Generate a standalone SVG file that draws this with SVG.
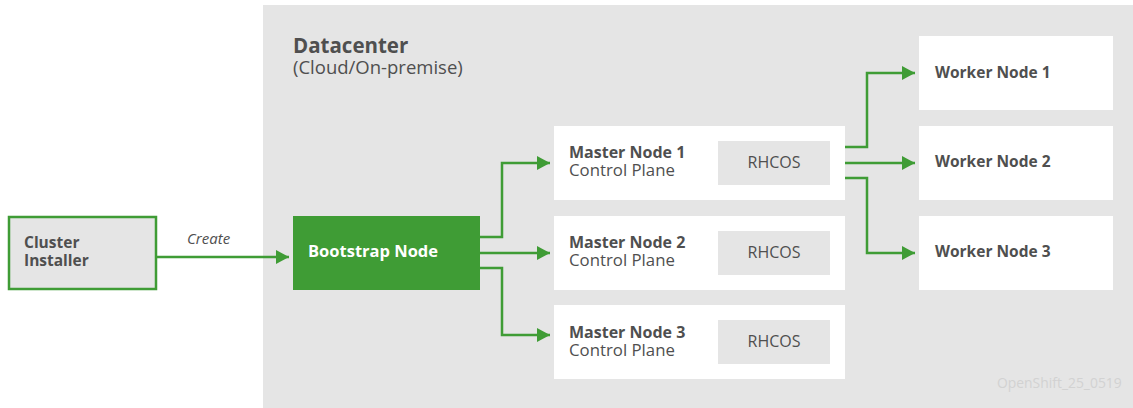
<svg xmlns="http://www.w3.org/2000/svg" width="1133" height="408" viewBox="0 0 1133 408">
  <defs>
    <marker id="arrow" viewBox="0 0 13 14" refX="13" refY="7" markerWidth="13" markerHeight="14" markerUnits="userSpaceOnUse" orient="auto">
      <path d="M0,0 L13,7 L0,14 Z" fill="#3f9c35"/>
    </marker>
    <style>
      text { font-family: "Open Sans", "Liberation Sans", sans-serif; fill: #4f4f4f; }
      .title { font-size: 15.5px; font-weight: bold; }
      .mtitle { font-size: 16px; font-weight: bold; }
      .sub { font-size: 16.8px; }
      .white { fill: #ffffff; }
      .panel { fill: #ffffff; }
      .os { fill: #e5e5e5; }
      .os-label { font-size: 16px; text-anchor: middle; }
      .edge { fill: none; stroke: #3f9c35; stroke-width: 2.5; marker-end: url(#arrow); }
    </style>
  </defs>

  <rect width="1133" height="408" fill="#ffffff"/>

  <!-- Datacenter region -->
  <g id="datacenter">
    <rect x="263" y="5" width="870" height="403" fill="#e5e5e5"/>
    <text x="293" y="53" style="font-size:20.5px;font-weight:bold">Datacenter</text>
    <text x="293" y="74" style="font-size:18.5px">(Cloud/On-premise)</text>
    <text x="997" y="388" style="font-size:13.9px;fill:#d2d2d2">OpenShift_25_0519</text>
  </g>

  <g id="cluster-installer">
    <rect x="9" y="217" width="147" height="72" fill="#e5e5e5" stroke="#3f9c35" stroke-width="2.5"/>
    <text class="title" x="24" y="248">Cluster</text>
    <text class="title" x="24" y="266">Installer</text>
  </g>

  <g id="bootstrap-node">
    <rect x="293" y="216" width="187" height="74" fill="#3f9c35"/>
    <text class="title white" x="308" y="257" style="font-size:16.5px">Bootstrap Node</text>
  </g>

  <g id="master-node-1">
    <rect class="panel" x="554" y="126" width="291" height="74"/>
    <text class="mtitle" x="569" y="158">Master Node 1</text>
    <text class="sub" x="569" y="176">Control Plane</text>
    <rect class="os" x="718" y="141" width="112" height="44"/>
    <text class="os-label" x="774" y="168">RHCOS</text>
  </g>

  <g id="master-node-2">
    <rect class="panel" x="554" y="216" width="291" height="74"/>
    <text class="mtitle" x="569" y="248">Master Node 2</text>
    <text class="sub" x="569" y="266">Control Plane</text>
    <rect class="os" x="718" y="231" width="112" height="44"/>
    <text class="os-label" x="774" y="258">RHCOS</text>
  </g>

  <g id="master-node-3">
    <rect class="panel" x="554" y="305" width="291" height="74"/>
    <text class="mtitle" x="569" y="338">Master Node 3</text>
    <text class="sub" x="569" y="356">Control Plane</text>
    <rect class="os" x="718" y="320" width="112" height="44"/>
    <text class="os-label" x="774" y="347">RHCOS</text>
  </g>

  <g id="worker-node-1">
    <rect class="panel" x="919" y="36" width="194" height="74"/>
    <text class="title" x="935" y="78">Worker Node 1</text>
  </g>

  <g id="worker-node-2">
    <rect class="panel" x="919" y="126" width="194" height="74"/>
    <text class="title" x="935" y="167">Worker Node 2</text>
  </g>

  <g id="worker-node-3">
    <rect class="panel" x="919" y="216" width="194" height="74"/>
    <text class="title" x="935" y="257">Worker Node 3</text>
  </g>

  <g id="connectors">
    <path class="edge" d="M157,257 H289"/>
    <text x="187" y="244" style="font-size:15px;font-style:italic">Create</text>

    <path class="edge" d="M480,237 H502 V163 H550"/>
    <path class="edge" d="M480,253 H550"/>
    <path class="edge" d="M480,268 H502 V335 H550"/>

    <path class="edge" d="M845,147 H867 V73 H915"/>
    <path class="edge" d="M845,163 H915"/>
    <path class="edge" d="M845,178 H867 V253 H915"/>
  </g>
</svg>
